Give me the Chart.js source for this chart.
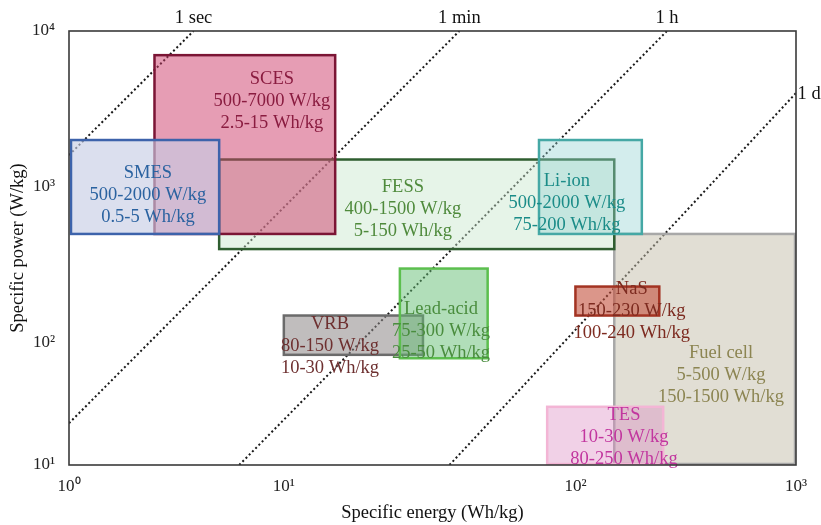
<!DOCTYPE html>
<html>
<head>
<meta charset="utf-8">
<script src="https://cdn.jsdelivr.net/npm/chart.js@4/dist/chart.umd.min.js"></script>
<style>
  html, body { margin: 0; padding: 0; background: #ffffff; }
  #wrap { width: 821px; height: 525px; }
</style>
</head>
<body>
<div id="wrap"><canvas id="ragone" width="821" height="525"></canvas></div>
<script>
// Storage technologies with their specific power (W/kg) and specific energy (Wh/kg) ranges
const technologies = ['SCES', 'SMES', 'FESS', 'Li-ion', 'Lead-acid', 'VRB', 'NaS', 'Fuel cell', 'TES'];
const powerMin  = [500, 500, 400, 500, 75, 80, 150, 5, 10];
const powerMax  = [7000, 2000, 1500, 2000, 300, 150, 230, 500, 30];
const energyMin = [2.5, 0.5, 5, 75, 25, 10, 100, 150, 80];
const energyMax = [15, 5, 150, 200, 50, 30, 240, 1500, 250];

// Discharge-time guide lines: end points as (energy, power)
const guideNames  = ['1 sec', '1 min', '1 h', '1 d'];
const guideEnergy = [[1, 3.8], [1, 40], [6.2, 260], [37, 1000]];
const guidePower  = [[1600, 10000], [22, 10000], [10, 10000], [10, 4000]];

// Axis ticks
const energyTicks = [1, 10, 100, 1000];
const powerTicks  = [10, 100, 1000, 10000];

// Where each text block sits, as (energy, power) of its middle line
const labelEnergy = [8.8, 2.33, 25.6, 93.5, 34.6, 14.4, 180, 457, 166];
const labelPower  = [3560, 889, 723, 789, 119, 94.5, 160, 54.7, 17];

// Styles, in drawing order below
const drawOrder   = [7, 2, 0, 1, 3, 5, 4, 6, 8];
const fillColors  = ['rgba(205,60,105,0.5)', 'rgba(198,205,228,0.64)', 'rgba(200,230,205,0.45)',
                     'rgba(145,210,210,0.4)', 'rgba(100,190,115,0.5)', 'rgba(140,135,135,0.55)',
                     'rgba(195,80,60,0.6)', 'rgba(195,190,170,0.5)', 'rgba(220,140,195,0.4)'];
const edgeColors  = ['#7b1535', '#3d63ab', '#2f5e30', '#45a8a5', '#5cbf4e', '#6b6b6b',
                     '#a33322', '#a8a8a8', '#f3b5d5'];
const textColors  = ['#8a1c40', '#2a62a0', '#4f8a3c', '#1b8c88', '#4a8d3e', '#6e3030',
                     '#7d2b20', '#8c8552', '#c2369f'];

const SERIF = "'Liberation Serif', 'Times New Roman', serif";
const SUP = { 0: '\u2070', 1: '\u00b9', 2: '\u00b2', 3: '\u00b3', 4: '\u2074' };

// Log axis whose decades may take unequal lengths: [log10 value, fraction of axis length]
const AXIS_BREAKS = {
  x: [[0, 0], [1, 0.2955], [2, 0.6966], [3, 1]],
  y: [[1, 0], [2, 0.2811], [3, 0.6406], [4, 1]]
};

class SegmentedLogScale extends Chart.LogarithmicScale {
  _decimalOf(value) {
    const k = AXIS_BREAKS[this.id];
    const lv = Math.log10(value);
    let i = 0;
    while (i < k.length - 2 && lv > k[i + 1][0]) i++;
    const [a0, d0] = k[i], [a1, d1] = k[i + 1];
    return d0 + (lv - a0) / (a1 - a0) * (d1 - d0);
  }
  getPixelForValue(value) {
    if (value === null || value === undefined || isNaN(value) || value <= 0) return NaN;
    return this.getPixelForDecimal(this._decimalOf(value));
  }
  getValueForPixel(pixel) {
    const d = this.getDecimalForPixel(pixel);
    const k = AXIS_BREAKS[this.id];
    let i = 0;
    while (i < k.length - 2 && d > k[i + 1][1]) i++;
    const [a0, d0] = k[i], [a1, d1] = k[i + 1];
    return Math.pow(10, a0 + (d - d0) / (d1 - d0) * (a1 - a0));
  }
}
SegmentedLogScale.id = 'segmentedLog';
SegmentedLogScale.defaults = Chart.LogarithmicScale.defaults;
Chart.register(SegmentedLogScale);

const powerTen = v => '10' + SUP[Math.round(Math.log10(v))];

// Range boxes, their captions, guide-line captions and the plot frame
const rangeBoxes = {
  id: 'rangeBoxes',
  afterDatasetsDraw(chart) {
    const { ctx, chartArea: a, scales: { x, y } } = chart;
    const clampX = p => Math.min(Math.max(p, a.left + 2), a.right - 1);
    const clampY = p => Math.min(Math.max(p, a.top + 1), a.bottom - 1);
    ctx.save();
    ctx.beginPath();
    ctx.rect(a.left, a.top, a.right - a.left, a.bottom - a.top);
    ctx.clip();
    drawOrder.forEach(i => {
      const x1 = clampX(x.getPixelForValue(energyMin[i]));
      const x2 = clampX(x.getPixelForValue(energyMax[i]));
      const y1 = clampY(y.getPixelForValue(powerMax[i]));
      const y2 = clampY(y.getPixelForValue(powerMin[i]));
      ctx.fillStyle = fillColors[i];
      ctx.fillRect(x1, y1, x2 - x1, y2 - y1);
      ctx.strokeStyle = edgeColors[i];
      ctx.lineWidth = 2.5;
      ctx.strokeRect(x1, y1, x2 - x1, y2 - y1);
    });
    ctx.restore();

    ctx.save();
    ctx.font = '18.5px ' + SERIF;
    ctx.textAlign = 'center';
    ctx.textBaseline = 'middle';
    technologies.forEach((name, i) => {
      const cx = x.getPixelForValue(labelEnergy[i]);
      const cy = y.getPixelForValue(labelPower[i]);
      const lines = [name, `${powerMin[i]}-${powerMax[i]} W/kg`, `${energyMin[i]}-${energyMax[i]} Wh/kg`];
      ctx.fillStyle = textColors[i];
      lines.forEach((t, k) => ctx.fillText(t, cx, cy + (k - 1) * 22));
    });
    ctx.restore();
  },
  afterDraw(chart) {
    const { ctx, chartArea: a, scales: { x, y } } = chart;
    ctx.save();
    ctx.strokeStyle = '#3a3a3a';
    ctx.lineWidth = 1.6;
    ctx.strokeRect(a.left, a.top, a.right - a.left, a.bottom - a.top);

    ctx.font = '18.5px ' + SERIF;
    ctx.fillStyle = '#111111';
    guideNames.forEach((name, i) => {
      const px = x.getPixelForValue(guideEnergy[i][1]);
      const py = y.getPixelForValue(guidePower[i][1]);
      if (py <= a.top + 1) {
        ctx.textAlign = 'center';
        ctx.textBaseline = 'middle';
        ctx.fillText(name, px, a.top - 13);
      } else {
        ctx.textAlign = 'left';
        ctx.textBaseline = 'middle';
        ctx.fillText(name, a.right + 1.5, py + 1);
      }
    });
    ctx.restore();
  }
};

const guideSets = guideNames.map((name, i) => ({
  label: name,
  data: guideEnergy[i].map((e, k) => ({ x: e, y: guidePower[i][k] })),
  showLine: true,
  pointRadius: 0,
  borderColor: '#1a1a1a',
  borderWidth: 2,
  borderDash: [2, 2.6],
  fill: false
}));

new Chart(document.getElementById('ragone'), {
  type: 'scatter',
  data: { datasets: guideSets },
  plugins: [rangeBoxes],
  options: {
    responsive: false,
    animation: false,
    devicePixelRatio: 1,
    layout: { padding: { top: 31, right: 25, left: 0, bottom: 0 } },
    plugins: { legend: { display: false }, tooltip: { enabled: false } },
    scales: {
      x: {
        type: 'segmentedLog',
        position: 'bottom',
        min: 1, max: 1000,
        grid: { display: false, drawTicks: false },
        border: { display: false },
        afterBuildTicks: s => { s.ticks = energyTicks.map(v => ({ value: v })); },
        afterFit: s => { s.height = 60; },
        ticks: {
          autoSkip: false, maxRotation: 0, padding: 11, color: '#222222',
          font: { family: SERIF, size: 17 },
          callback: v => powerTen(v)
        },
        title: {
          display: true, text: 'Specific energy (Wh/kg)', color: '#111111',
          font: { family: SERIF, size: 18.5, lineHeight: 1 },
          padding: { top: 0, bottom: 3 }
        }
      },
      y: {
        type: 'segmentedLog',
        position: 'left',
        min: 10, max: 10000,
        grid: { display: false, drawTicks: false },
        border: { display: false },
        afterBuildTicks: s => { s.ticks = powerTicks.map(v => ({ value: v })); },
        afterFit: s => { s.width = 69; },
        ticks: {
          autoSkip: false, padding: 14, color: '#222222',
          font: { family: SERIF, size: 17 },
          callback: v => powerTen(v)
        },
        title: {
          display: true, text: 'Specific power (W/kg)', color: '#111111',
          font: { family: SERIF, size: 18.5, lineHeight: 1 },
          padding: { top: 9, bottom: 0 }
        }
      }
    }
  }
});
</script>
</body>
</html>
